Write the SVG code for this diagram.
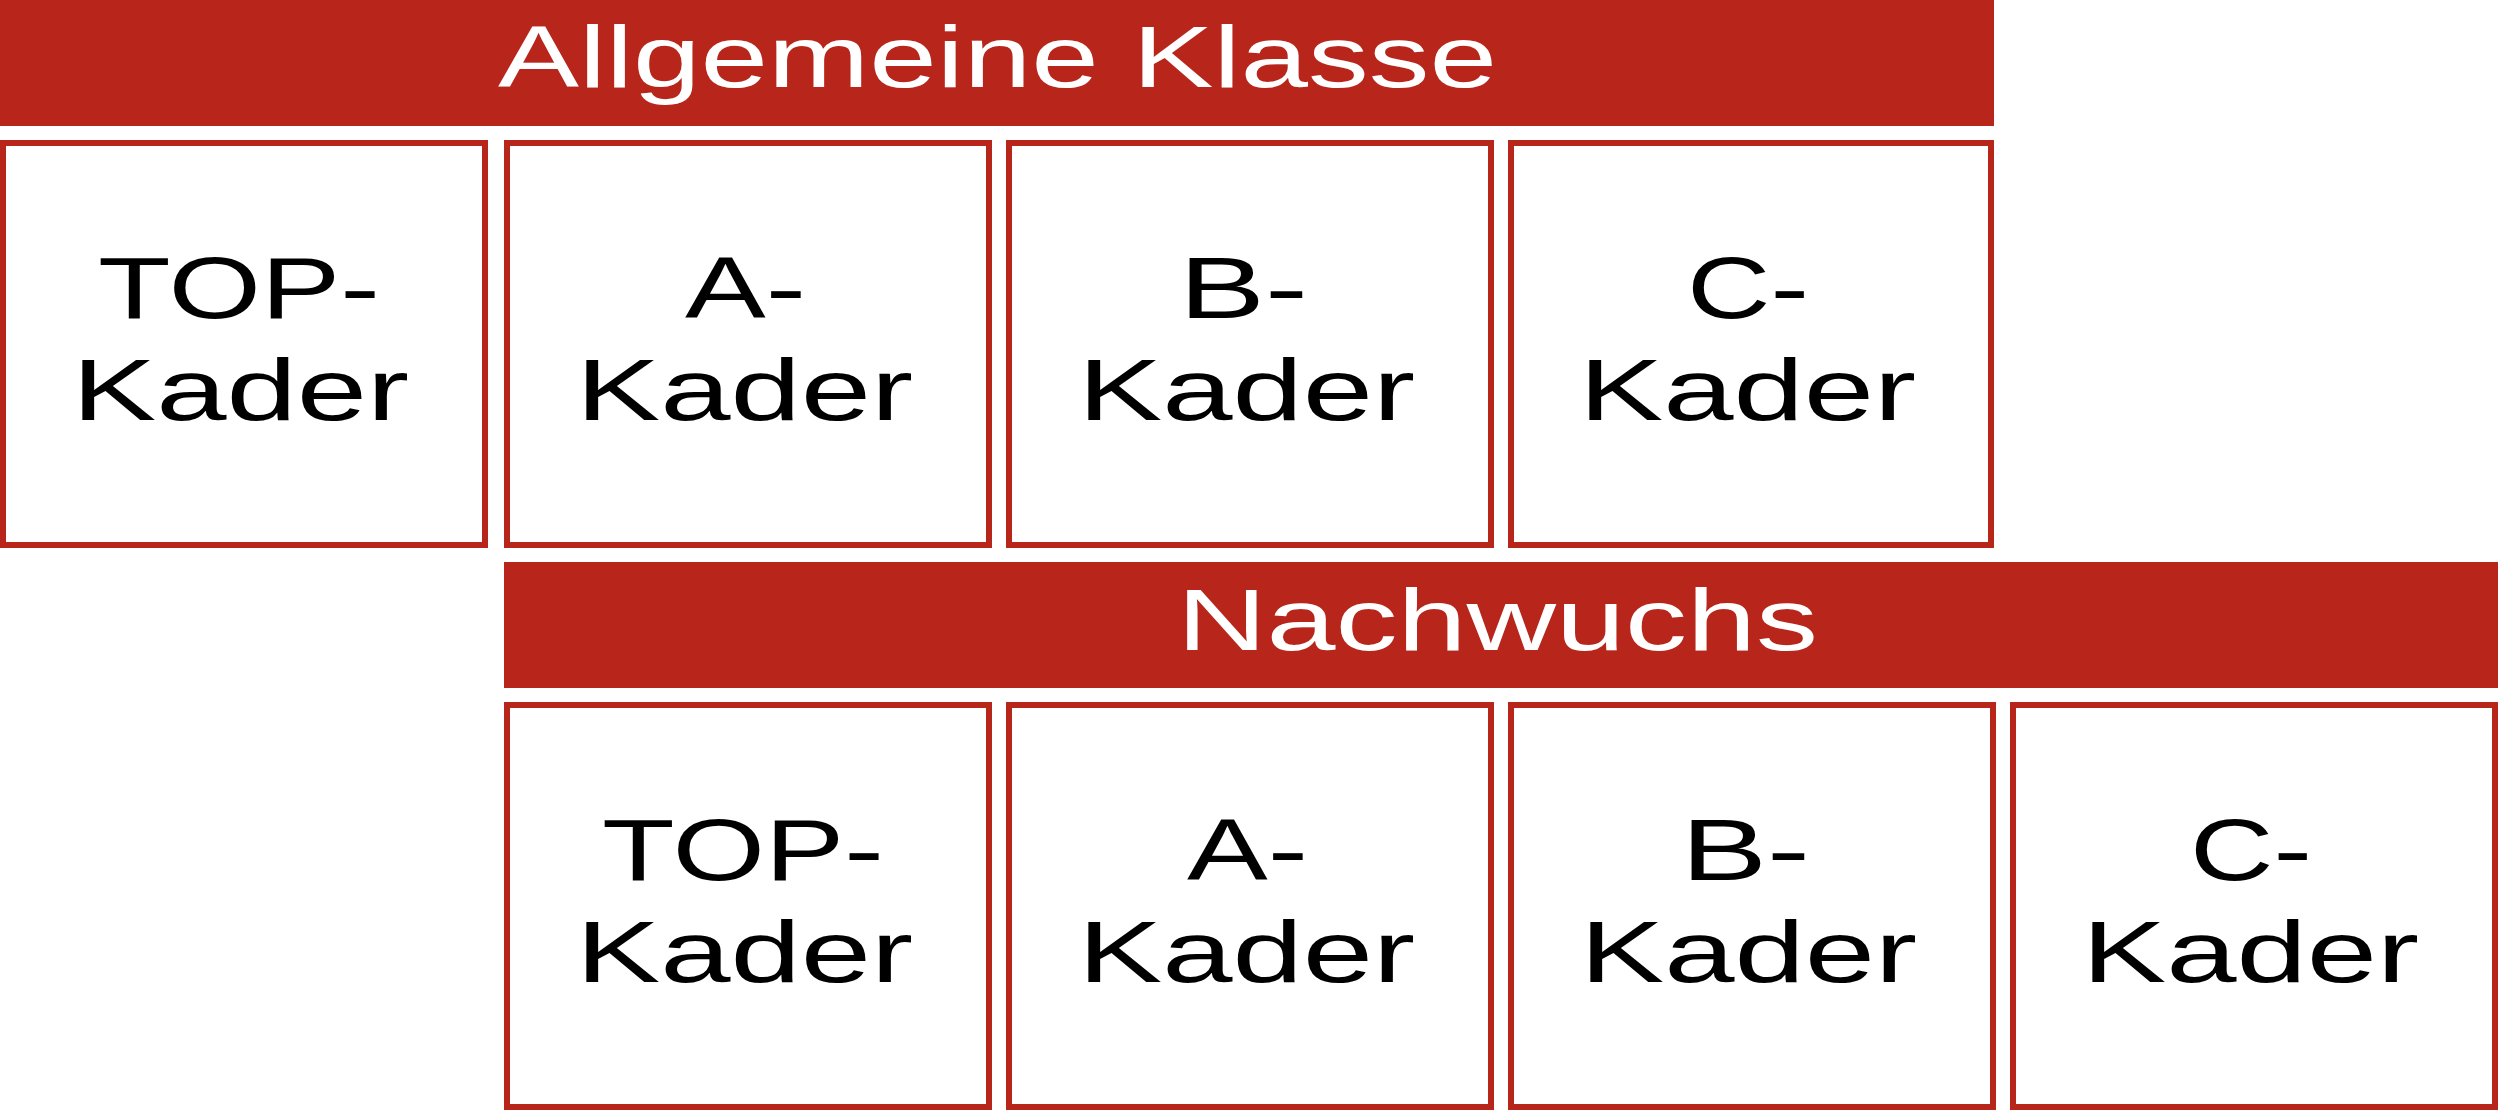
<svg xmlns="http://www.w3.org/2000/svg" width="2498" height="1110" viewBox="0 0 2498 1110">
<style>
.banner{fill:#B8251B}
.box{fill:#FFFFFF;stroke:#B8251B;stroke-width:6}
.title{fill:#FFFFFF;font-family:"Liberation Sans",Arial,sans-serif;font-size:88px}
.lbl{fill:#000000;font-family:"Liberation Sans",Arial,sans-serif;font-size:88px}
</style>
<rect x="0" y="0" width="2498" height="1110" fill="#FFFFFF"/>
<g id="banner-allgemeine">
<rect class="banner" x="0" y="0" width="1994" height="126"/>
<text class="title" x="498" y="87" textLength="999" lengthAdjust="spacingAndGlyphs">Allgemeine Klasse</text>
</g>
<g id="ak-top">
<rect class="box" x="3" y="143" width="482" height="402"/>
<text class="lbl" x="98" y="318" textLength="282" lengthAdjust="spacingAndGlyphs">TOP-</text>
<text class="lbl" x="72" y="420" textLength="337" lengthAdjust="spacingAndGlyphs">Kader</text>
</g>
<g id="ak-a">
<rect class="box" x="507" y="143" width="482" height="402"/>
<text class="lbl" x="685" y="318" textLength="121" lengthAdjust="spacingAndGlyphs">A-</text>
<text class="lbl" x="576" y="420" textLength="337" lengthAdjust="spacingAndGlyphs">Kader</text>
</g>
<g id="ak-b">
<rect class="box" x="1009" y="143" width="482" height="402"/>
<text class="lbl" x="1179" y="318" textLength="129" lengthAdjust="spacingAndGlyphs">B-</text>
<text class="lbl" x="1078" y="420" textLength="337" lengthAdjust="spacingAndGlyphs">Kader</text>
</g>
<g id="ak-c">
<rect class="box" x="1511" y="143" width="480" height="402"/>
<text class="lbl" x="1687" y="318" textLength="122" lengthAdjust="spacingAndGlyphs">C-</text>
<text class="lbl" x="1579" y="420" textLength="337" lengthAdjust="spacingAndGlyphs">Kader</text>
</g>
<g id="banner-nachwuchs">
<rect class="banner" x="504" y="562" width="1994" height="126"/>
<text class="title" x="1177" y="650" textLength="641" lengthAdjust="spacingAndGlyphs">Nachwuchs</text>
</g>
<g id="nw-top">
<rect class="box" x="507" y="705" width="482" height="402"/>
<text class="lbl" x="602" y="880" textLength="282" lengthAdjust="spacingAndGlyphs">TOP-</text>
<text class="lbl" x="576" y="982" textLength="337" lengthAdjust="spacingAndGlyphs">Kader</text>
</g>
<g id="nw-a">
<rect class="box" x="1009" y="705" width="482" height="402"/>
<text class="lbl" x="1187" y="880" textLength="121" lengthAdjust="spacingAndGlyphs">A-</text>
<text class="lbl" x="1078" y="982" textLength="337" lengthAdjust="spacingAndGlyphs">Kader</text>
</g>
<g id="nw-b">
<rect class="box" x="1511" y="705" width="482" height="402"/>
<text class="lbl" x="1681" y="880" textLength="129" lengthAdjust="spacingAndGlyphs">B-</text>
<text class="lbl" x="1580" y="982" textLength="337" lengthAdjust="spacingAndGlyphs">Kader</text>
</g>
<g id="nw-c">
<rect class="box" x="2013" y="705" width="482" height="402"/>
<text class="lbl" x="2190" y="880" textLength="122" lengthAdjust="spacingAndGlyphs">C-</text>
<text class="lbl" x="2082" y="982" textLength="337" lengthAdjust="spacingAndGlyphs">Kader</text>
</g>
<g id="connectors"></g>
</svg>
